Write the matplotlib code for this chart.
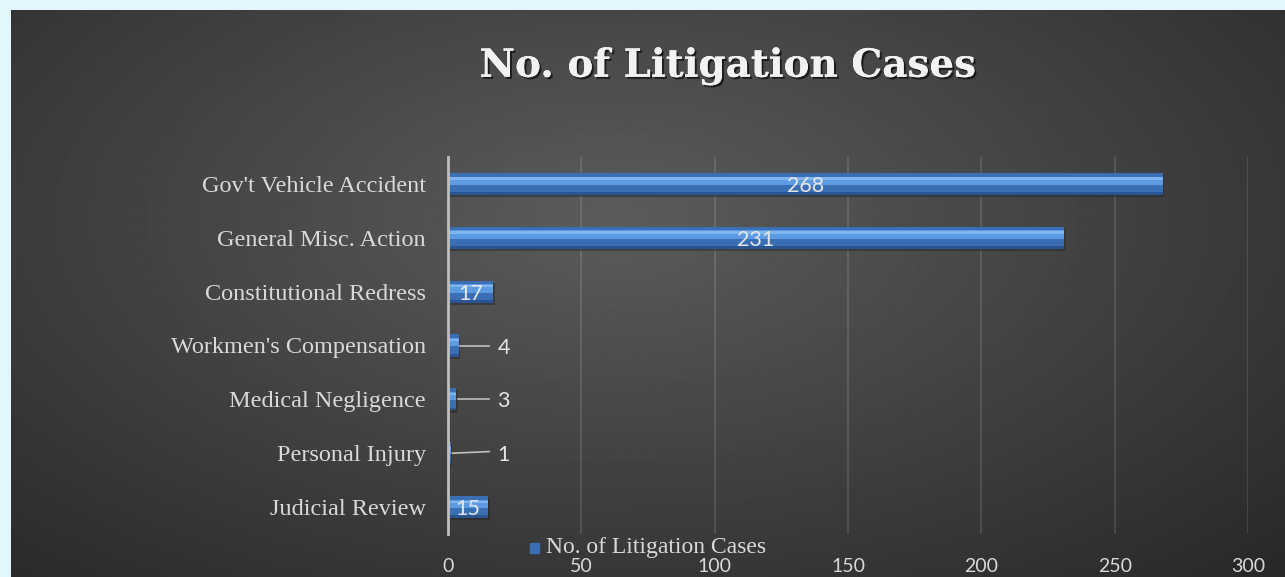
import numpy as np
import matplotlib.pyplot as plt
import matplotlib.patheffects as pe

categories = ["Judicial Review", "Personal Injury", "Medical Negligence",
              "Workmen's Compensation", "Constitutional Redress",
              "General Misc. Action", "Gov't Vehicle Accident"]
cases = [15, 1, 3, 4, 17, 231, 268]
xticks = [0, 50, 100, 150, 200, 250, 300]
series_name = "No. of Litigation Cases"

W, H = 1285, 577
fig = plt.figure(figsize=(W / 100, H / 100), dpi=100)
fig.patch.set_facecolor("#e4f6fd")

# dark radial gradient panel
bg = fig.add_axes([11 / W, 0, 1 - 11 / W, 1 - 10 / H])
yy, xx = np.mgrid[0:300, 0:700]
d = np.sqrt(((xx - 330) / 520.0) ** 2 + ((yy - 110) / 260.0) ** 2)
shade = np.clip(0.36 - 0.2 * d, 0.15, 0.36)
bg.imshow(shade, cmap="gray", vmin=0, vmax=1, aspect="auto", interpolation="bilinear")
bg.axis("off")

ax = fig.add_axes([448 / W, 1 - 534 / H, 800 / W, 377 / H])
ax.patch.set_alpha(0)
y = np.arange(len(categories))
h = 0.41

# shadow, body, highlight, lower edge
ax.barh(y - 0.04, cases, height=h, left=0.6, color="#222222", alpha=0.45, zorder=2)
ax.barh(y, cases, height=h, color="#3b6fb4", zorder=3)
ax.barh(y + 0.06, cases, height=h * 0.38, color="#5c9be2", zorder=4)
ax.barh(y + 0.1, cases, height=h * 0.1, color="#7fb6f0", zorder=5)
ax.barh(y - h / 2 + 0.025, cases, height=0.05, color="#2a5592", zorder=5)

for yi, v in zip(y, cases):
    if v >= 10:
        ax.text(v / 2, yi, str(v), ha="center", va="center_baseline", color="#e6e6e6",
                fontsize=15.5, family="Lato", zorder=6)
    else:
        ax.plot([v + 0.6, 15.5], [yi, yi + (0.03 if v == 1 else 0)], color="#bfbfbf",
                lw=1.2, zorder=6)
        ax.text(18.5, yi, str(v), ha="left", va="center_baseline", color="#e6e6e6",
                fontsize=15.5, family="Lato", zorder=6)

ax.set_xlim(0, 300)
ax.set_ylim(-0.5, len(categories) - 0.5)
ax.set_xticks(xticks)
ax.set_xticklabels([str(t) for t in xticks], family="Lato", fontsize=14, color="#d9d9d9")
ax.set_yticks(y)
ax.set_yticklabels(categories, family="Liberation Serif", fontsize=17.5, color="#d9d9d9")
ax.tick_params(axis="x", length=0, pad=17)
ax.tick_params(axis="y", length=0, pad=16)
ax.grid(axis="x", color="white", alpha=0.13, lw=1.3, zorder=0)
for s in ["top", "right", "bottom"]:
    ax.spines[s].set_visible(False)
ax.spines["left"].set_color("#bfbfbf")
ax.spines["left"].set_linewidth(2)
ax.spines["left"].set_zorder(7)

# legend entry
fig.patches.append(plt.Rectangle((530 / W, 1 - 553 / H), 9 / W, 10 / H,
                                 transform=fig.transFigure, color="#3b6fb4", zorder=5))
fig.text(546 / W, 1 - 548 / H, series_name, family="Liberation Serif", fontsize=17,
         color="#d9d9d9", va="center", ha="left")

fig.text(728 / W, 1 - 66 / H, series_name, family="DejaVu Serif", fontweight="bold",
         fontsize=28, color="#f2f2f2", ha="center", va="center",
         path_effects=[pe.withSimplePatchShadow(offset=(1.5, -1.5), shadow_rgbFace="black", alpha=0.6),
                       pe.Normal()])

fig.savefig("out.png", dpi=100, facecolor=fig.get_facecolor())
